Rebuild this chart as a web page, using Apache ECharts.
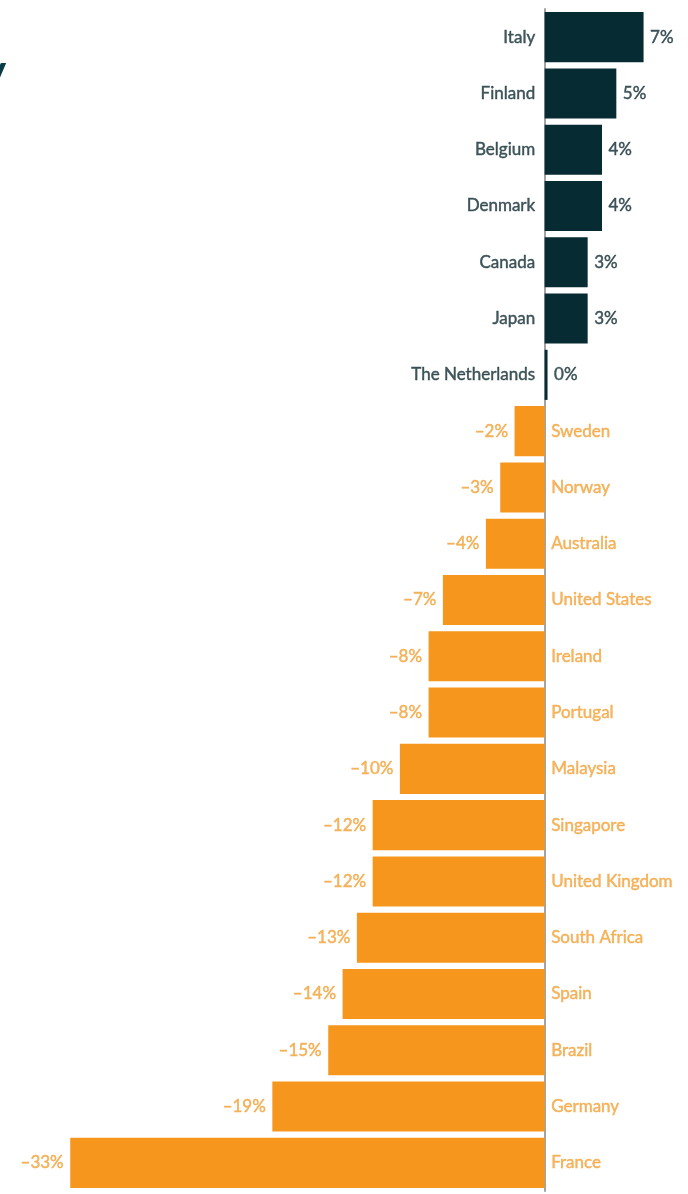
<!DOCTYPE html>
<html>
<head>
<meta charset="utf-8">
<script src="https://cdn.jsdelivr.net/npm/echarts@6/dist/echarts.min.js"></script>
<style>html,body{margin:0;padding:0;background:#fff}#c{width:688px;height:1194px}</style>
</head>
<body>
<div id="c"></div>
<script>
const categories = ['Italy','Finland','Belgium','Denmark','Canada','Japan','The Netherlands','Sweden','Norway','Australia','United States','Ireland','Portugal','Malaysia','Singapore','United Kingdom','South Africa','Spain','Brazil','Germany','France'];
const values = [6.9, 5.0, 4.0, 4.0, 3.0, 3.0, 0.2, -2.1, -3.1, -4.1, -7.1, -8.1, -8.1, -10.1, -12.0, -12.0, -13.1, -14.1, -15.1, -19.0, -33.1];
const valueLabels = ['7%','5%','4%','4%','3%','3%','0%','–2%','–3%','–4%','–7%','–8%','–8%','–10%','–12%','–12%','–13%','–14%','–15%','–19%','–33%'];

const DARK = '#062b33';
const DARK_TEXT = '#132e35';
const ORANGE = '#f7961d';
const ORANGE_TEXT = '#f2a23a';
const FONT = 'Lato';

const chart = echarts.init(document.getElementById('c'));
const barData = values.map((v, i) => ({
  value: v,
  itemStyle: { color: v >= 0 ? DARK : ORANGE }
}));
const catLabelData = categories.map((c, i) => {
  const col = values[i] >= 0 ? DARK_TEXT : ORANGE_TEXT;
  return {
    value: [0, c],
    label: {
      position: values[i] >= 0 ? 'left' : 'right',
      distance: values[i] >= 0 ? 9 : 6,
      color: col, textBorderColor: col, textBorderWidth: 0.45,
      formatter: c
    }
  };
});
const valLabelData = values.map((v, i) => {
  const col = v >= 0 ? DARK_TEXT : ORANGE_TEXT;
  return {
    value: [v, categories[i]],
    label: {
      position: v >= 0 ? 'right' : 'left',
      distance: 6,
      color: col, textBorderColor: col, textBorderWidth: 0.45,
      formatter: valueLabels[i]
    }
  };
});

chart.setOption({
  animation: false,
  backgroundColor: '#fff',
  graphic: [{
    type: 'text', left: -17, top: 50,
    style: { text: 'y', font: 'bold 44px ' + FONT, fill: '#0b3a48' }
  }],
  grid: { left: 0, right: 0, top: 9, bottom: 3, containLabel: false },
  xAxis: {
    type: 'value', min: -38, max: 10, show: false
  },
  yAxis: {
    type: 'category', data: categories, inverse: true,
    axisLine: { show: true, onZero: true, lineStyle: { color: '#a3a3a3', width: 2 } },
    axisTick: { show: false },
    axisLabel: { show: false },
    splitLine: { show: false }
  },
  series: [
    {
      type: 'bar', data: barData, barCategoryGap: '11%', z: 1
    },
    {
      type: 'scatter', data: catLabelData, symbolSize: 1,
      itemStyle: { color: 'transparent' }, z: 3,
      label: { show: true, fontFamily: FONT, fontSize: 17, fontWeight: 'normal' }
    },
    {
      type: 'scatter', data: valLabelData, symbolSize: 1,
      itemStyle: { color: 'transparent' }, z: 3,
      label: { show: true, fontFamily: FONT, fontSize: 17, fontWeight: 'normal' }
    }
  ]
});
</script>
</body>
</html>
